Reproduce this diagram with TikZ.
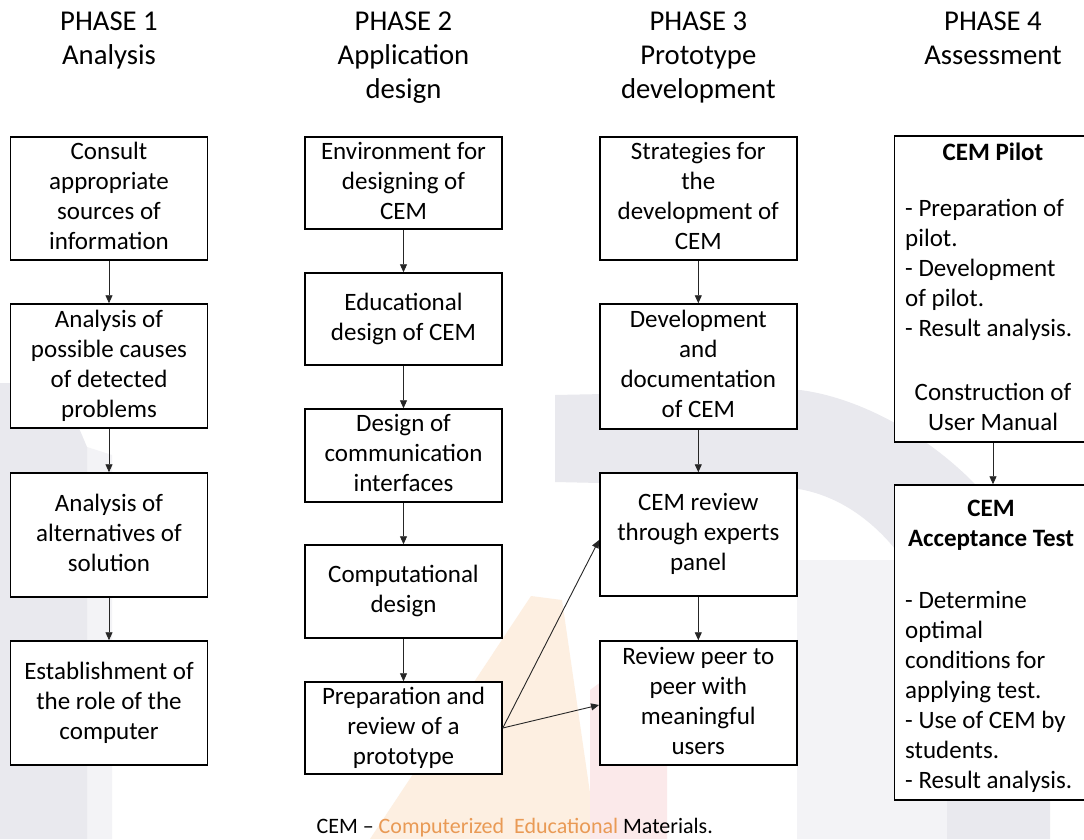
\documentclass[tikz,border=0pt]{standalone}
\usepackage{fontspec}
\setmainfont{Carlito}
\usetikzlibrary{arrows.meta}

\definecolor{wmgrey}{HTML}{E9E9EE}
\definecolor{wmlight}{HTML}{F3F3F6}
\definecolor{wmorange}{HTML}{FDEFE1}
\definecolor{wmpink}{HTML}{FBE9EA}
\definecolor{capcolor}{HTML}{E99A55}

\newcommand{\lines}[1]{\begin{tabular}{@{}c@{}}#1\end{tabular}}
\newcommand{\toplines}[1]{\begin{tabular}[t]{@{}c@{}}#1\end{tabular}}
\newcommand{\leftlines}[1]{\begin{tabular}[t]{@{}l@{}}#1\end{tabular}}

\tikzset{
  stagebox/.style={draw=black, line width=1.5pt, fill=white, inner sep=0pt,
    minimum width=197pt, font=\fontsize{25}{30}\selectfont},
  phasehead/.style={inner sep=0pt, anchor=base, font=\fontsize{28.7}{34}\selectfont},
  boxtext/.style={inner sep=0pt, font=\fontsize{25}{30}\selectfont},
  flow/.style={draw=black!85, line width=0.9pt, -{Triangle[length=8pt,width=7pt]}},
}

\begin{document}
\begin{tikzpicture}[x=1pt, y=-1pt]
\path[use as bounding box, fill=white] (0,0) rectangle (1084,839);

% faint background emblem
\fill[wmlight] (87,447) -- (112,455) -- (112,839) -- (87,839) -- cycle;
\fill[wmlight] (797,560) -- (900,560) -- (947,650) -- (947,839) -- (797,839) -- cycle;
\fill[wmgrey] (0,383) -- (60,383) -- (87,447) -- (87,839) -- (0,839) -- cycle;
\fill[wmgrey] (555,395) -- (800,390) .. controls (880,400) and (1000,470) .. (1050,600)
  -- (1050,839) -- (947,839) -- (947,650) .. controls (920,560) and (860,490) .. (780,487)
  -- (555,482) -- cycle;
\fill[wmorange] (370,839) -- (531,596) -- (562,600) -- (590,793) -- (590,839) -- cycle;
\fill[wmpink] (590,690) -- (620,668) -- (667,668) -- (667,839) -- (590,839) -- cycle;

% phase headings
\node[phasehead] (h1) at (109,30)   {\toplines{PHASE 1\\Analysis}};
\node[phasehead] (h2) at (403.5,30) {\toplines{PHASE 2\\Application\\design}};
\node[phasehead] (h3) at (698.3,30) {\toplines{PHASE 3\\Prototype\\development}};
\node[phasehead] (h4) at (993,30)   {\toplines{PHASE 4\\Assessment}};

% phase 1
\node[stagebox, minimum height=123pt] (p1a) at (109,198.5) {\lines{Consult\\appropriate\\sources of\\information}};
\node[stagebox, minimum height=124pt] (p1b) at (109,366)   {\lines{Analysis of\\possible causes\\of detected\\problems}};
\node[stagebox, minimum height=124pt] (p1c) at (109,535)   {\lines{Analysis of\\alternatives of\\solution}};
\node[stagebox, minimum height=124pt] (p1d) at (109,703)   {\lines{Establishment of\\the role of the\\computer}};

% phase 2
\node[stagebox, minimum height=92pt] (p2a) at (403.5,183)   {\lines{Environment for\\designing of\\CEM}};
\node[stagebox, minimum height=92pt] (p2b) at (403.5,319)   {\lines{Educational\\design of CEM}};
\node[stagebox, minimum height=93pt] (p2c) at (403.5,455.5) {\lines{Design of\\communication\\interfaces}};
\node[stagebox, minimum height=93pt] (p2d) at (403.5,591.5) {\lines{Computational\\design}};
\node[stagebox, minimum height=92pt] (p2e) at (403.5,728)   {\lines{Preparation and\\review of a\\prototype}};

% phase 3
\node[stagebox, minimum height=123pt] (p3a) at (698.3,198.5) {\lines{Strategies for\\the\\development of\\CEM}};
\node[stagebox, minimum height=125pt] (p3b) at (698.3,366.5) {\lines{Development\\and\\documentation\\of CEM}};
\node[stagebox, minimum height=123pt] (p3c) at (698.3,534.5) {\lines{CEM review\\through experts\\panel}};
\node[stagebox, minimum height=124pt] (p3d) at (698.3,703)   {\lines{Review peer to\\peer with\\meaningful\\users}};

% phase 4
\node[stagebox, minimum height=306pt] (p4a) at (993,289) {};
\node[stagebox, minimum height=315pt] (p4b) at (993,642.5) {};

\node[boxtext, anchor=base] (p4at) at (993,160.7) {\textbf{CEM Pilot}};
\node[boxtext, anchor=base west] (p4al) at (905,216.7)
  {\leftlines{- Preparation of\\pilot.\\- Development\\of pilot.\\- Result analysis.}};
\node[boxtext, anchor=base] (p4ac) at (993,400) {\toplines{Construction of\\User Manual}};

\node[boxtext, anchor=base] (p4bt) at (991,516.7) {\bfseries\toplines{CEM\\Acceptance Test}};
\node[boxtext, anchor=base west] (p4bl) at (905,608.3)
  {\leftlines{- Determine\\optimal\\conditions for\\applying test.\\- Use of CEM by\\students.\\- Result analysis.}};

% connectors
\draw[flow] (p1a) -- (p1b);
\draw[flow] (p1b) -- (p1c);
\draw[flow] (p1c) -- (p1d);
\draw[flow] (p2a) -- (p2b);
\draw[flow] (p2b) -- (p2c);
\draw[flow] (p2c) -- (p2d);
\draw[flow] (p2d) -- (p2e);
\draw[flow] (p3a) -- (p3b);
\draw[flow] (p3b) -- (p3c);
\draw[flow] (p3c) -- (p3d);
\draw[flow] (p4a) -- (p4b);
\draw[flow] (p2e.east) -- ([yshift=-5.5pt]p3c.west);
\draw[flow] (p2e.east) -- ([yshift=-2pt]p3d.west);

% caption
\node[inner sep=0pt, anchor=base, font=\fontsize{22}{26}\selectfont] (cap) at (514.7,833)
  {CEM -- \textcolor{capcolor}{Computerized\ \ Educational} Materials.};
\end{tikzpicture}
\end{document}
